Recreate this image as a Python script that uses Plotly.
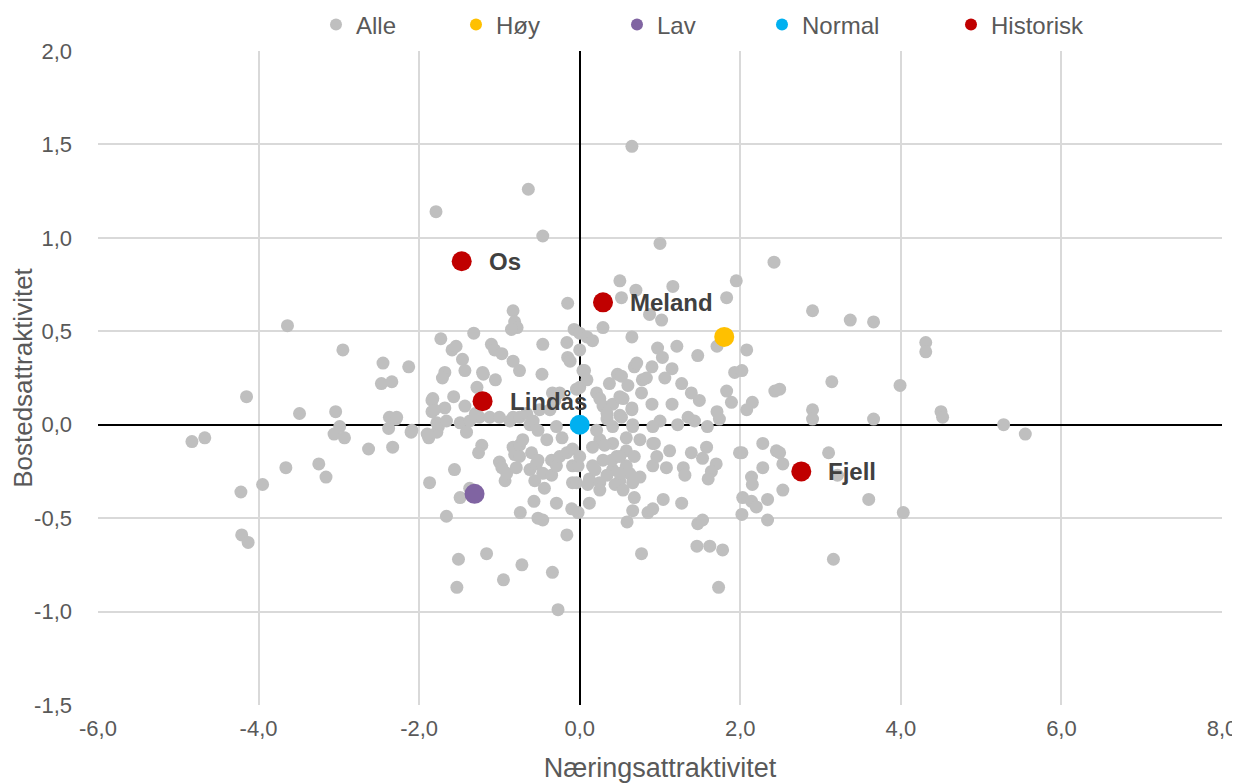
import plotly.graph_objects as go

# ---------------- data ----------------
alle_x = [
    -4.83, -4.67, -4.22, -4.21, -4.13, -3.95, -4.15, -3.64, -3.66, -3.49, -3.25, -3.16, -3.04, -2.99, -3.06, -2.93,
    -2.95, -2.63, -2.45, -2.47, -2.34, -2.38, -2.29, -2.33, -2.13, -2.10, -1.87, -1.79, -1.73, -1.68, -1.71, -1.84,
    -1.84, -1.76, -1.88, -1.78, -1.66, -1.59, -1.54, -1.56, -1.51, -1.53, -1.49, -1.46, -1.43, -1.43, -1.57, -1.68,
    -1.81, -1.78, -1.66, -1.49, -1.37, -1.41, -1.37, -1.32, -1.28, -1.25, -1.30, -1.22, -1.26, -1.21, -1.16, -1.10,
    -1.06, -1.05, -1.12, -1.00, -1.00, -0.97, -0.97, -0.93, -0.95, -0.91, -0.83, -0.83, -0.81, -0.78, -0.85, -0.87,
    -0.83, -0.81, -0.79, -0.83, -0.74, -0.72, -0.75, -0.75, -0.75, -0.75, -0.71, -0.64, -0.66, -0.62, -0.60, -0.62,
    -0.56, -0.57, -0.52, -0.54, -0.58, -0.46, -0.47, -0.50, -0.52, -0.52, -0.46, -0.46, -0.46, -0.44, -0.41, -0.37,
    -0.35, -0.35, -0.34, -0.34, -0.31, -0.29, -0.29, -0.29, -0.27, -0.25, -0.25, -0.22, -0.16, -0.15, -0.15, -0.16,
    -0.16, -0.12, -0.10, -0.09, -0.09, -0.09, -0.07, -0.04, -0.04, -0.02, -0.02, 0.00, 0.00, 0.00, 0.00, -1.20,
    -2.37, -2.09, -1.83, -1.90, -2.28,
    0.04, 0.09, 0.09, 0.16, 0.06, 0.21, 0.37, 0.47, 0.60, 0.68, 0.25, 0.29, 0.41, 0.54, 0.65, 0.50,
    0.34, 0.41, 0.66, 0.58, 0.41, 0.25, 0.16, 0.21, 0.16, 0.29, 0.46, 0.58, 0.41, 0.58, 0.12, 0.25,
    0.50, 0.66, 0.10, 0.12, 0.19, 0.31, 0.40, 0.25, 0.44, 0.34, 0.62, 0.66, 0.75, 0.91, 0.96, 0.91,
    0.54, 0.68, 0.50, 0.50,
    0.65, 1.00, 2.42, 1.95, 0.50, 0.70, 1.16, 1.83, 0.52, 0.29, 0.65, 0.87, 1.02, 1.21, 0.97, 1.47,
    1.71, 2.08, 1.93, 2.02, 2.43, 1.83, 1.89, 2.15, 2.08, 0.71, 0.52, 1.03, 0.90, 1.15, 1.06, 1.27,
    0.78, 0.83, 1.39, 1.49, 1.15, 0.90, 0.77, 0.65, 0.50, 0.34, 1.71, 1.74, 1.59, 1.43, 1.35, 1.22,
    1.00, 0.91, 0.66, 0.52, 0.75, 0.93, 1.12, 1.39, 1.58, 2.02, 2.28, 2.45, 1.53, 1.70, 1.64, 1.60,
    1.08, 1.29, 1.31, 1.04, 1.27, 0.85, 0.91, 0.66, 0.68, 0.59, 1.47, 1.53, 0.77, 1.46, 1.62, 1.78,
    1.73, 1.99, 2.14, 2.15, 2.28, 2.03, 2.14, 2.20, 2.34, 2.02, 2.34, 2.53, 2.53, 2.49, 2.90, 3.37,
    3.66, 4.31, 4.31, 3.14, 3.99, 2.49, 2.90, 2.90, 3.66, 4.50, 4.52, 5.28, 5.55, 3.10, 3.21, 3.60,
    4.03, 3.16,
]
alle_y = [
    -0.09, -0.07, -0.36, -0.59, -0.63, -0.32, 0.15, 0.53, -0.23, 0.06, -0.21, -0.28, 0.07, -0.01, -0.05, -0.07,
    0.40, -0.13, 0.33, 0.22, 0.23, -0.02, 0.03, -0.12, 0.31, -0.04, -0.31, 1.14, 0.46, 0.28, 0.25, 0.13,
    0.07, -0.01, -0.07, -0.04, -0.49, 0.40, 0.42, -0.24, -0.72, -0.87, -0.39, 0.35, 0.29, 0.10, 0.15, 0.09,
    0.08, 0.01, 0.02, 0.01, 0.02, -0.04, -0.34, 0.49, 0.20, 0.04, 0.06, -0.11, -0.15, 0.28, -0.69, 0.43,
    0.40, 0.24, 0.04, 0.04, -0.20, 0.38, -0.23, -0.30, -0.83, -0.26, 0.34, 0.61, 0.55, 0.52, 0.51, 0.02,
    0.04, -0.16, -0.23, -0.12, -0.47, -0.75, 0.29, 0.04, -0.11, -0.17, -0.08, 1.26, 0.06, 0.00, -0.15, -0.24,
    -0.30, -0.41, -0.50, -0.21, 0.02, 1.01, 0.27, 0.08, -0.03, -0.19, 0.43, -0.26, -0.51, -0.34, -0.08, 0.08,
    -0.27, -0.19, 0.17, -0.79, 0.13, -0.42, -0.22, -0.01, -0.99, 0.17, -0.17, -0.07, 0.44, 0.36, 0.65, -0.15,
    -0.59, 0.34, -0.45, -0.13, -0.22, -0.31, 0.51, 0.19, -0.31, -0.22, -0.47, 0.40, 0.49, 0.20, -0.17, 0.27,
    0.04, -0.03, 0.14, -0.05, 0.04,
    0.29, 0.24, 0.47, 0.45, 0.29, 0.17, 0.22, 0.27, 0.21, 0.31, 0.14, 0.10, 0.11, 0.14, 0.08, 0.05,
    0.03, -0.01, -0.01, -0.07, -0.10, -0.08, -0.12, -0.03, -0.22, -0.19, -0.17, -0.14, -0.24, -0.22, -0.29, -0.31,
    -0.30, -0.28, -0.32, -0.42, -0.24, -0.11, -0.19, -0.35, -0.32, -0.27, -0.26, -0.31, -0.28, -0.22, -0.17, -0.10,
    -0.35, -0.17, -0.17, -0.26,
    1.49, 0.97, 0.87, 0.77, 0.77, 0.72, 0.74, 0.68, 0.68, 0.52, 0.47, 0.59, 0.56, 0.42, 0.41, 0.37,
    0.42, 0.40, 0.28, 0.29, 0.18, 0.18, 0.12, 0.12, 0.08, 0.33, 0.26, 0.36, 0.31, 0.30, 0.25, 0.22,
    0.24, 0.25, 0.17, 0.13, 0.11, 0.11, 0.17, 0.09, 0.15, 0.06, 0.07, 0.03, -0.01, 0.02, 0.04, 0.00,
    0.02, -0.01, 0.00, 0.04, -0.08, -0.10, -0.14, -0.15, -0.12, -0.15, -0.10, -0.14, -0.18, -0.21, -0.25, -0.29,
    -0.23, -0.23, -0.27, -0.40, -0.42, -0.47, -0.45, -0.46, -0.39, -0.52, -0.53, -0.51, -0.69, -0.65, -0.65, -0.67,
    -0.87, -0.15, -0.28, -0.32, -0.23, -0.39, -0.41, -0.44, -0.40, -0.48, -0.51, -0.21, -0.35, -0.15, 0.61, 0.56,
    0.55, 0.44, 0.39, 0.23, 0.21, 0.19, 0.08, 0.03, 0.03, 0.07, 0.04, 0.00, -0.05, -0.15, -0.27, -0.40,
    -0.47, -0.72,
]

hoy_x = [1.80]
hoy_y = [0.47]
lav_x = [-1.31]
lav_y = [-0.37]
normal_x = [0.0]
normal_y = [0.0]
hist_names = ["Os", "Meland", "Lindås", "Fjell"]
hist_x = [-1.47, 0.29, -1.21, 2.76]
hist_y = [0.875, 0.655, 0.126, -0.25]

x_ticks = [-6, -4, -2, 0, 2, 4, 6, 8]
x_ticktext = ["-6,0", "-4,0", "-2,0", "0,0", "2,0", "4,0", "6,0", "8,0"]
y_ticks = [-1.5, -1.0, -0.5, 0.0, 0.5, 1.0, 1.5, 2.0]
y_ticktext = ["-1,5", "-1,0", "-0,5", "0,0", "0,5", "1,0", "1,5", "2,0"]

# ---------------- style ----------------
FONT = "Liberation Sans, Arial, sans-serif"
TXT = "#595959"
GRID = "#D9D9D9"
OFF = 8  # page body margin
W, H = 1240 - OFF, 783 - OFF
L, R, T, B = 98 - OFF, 18, 51 - OFF, 78
PW = W - L - R
PH = H - T - B

def legend_x(px):
    return (px - OFF - 20 - L) / PW

fig = go.Figure()

series = [
    ("Alle", alle_x, alle_y, "#BFBFBF", 13, 336),
    ("Høy", hoy_x, hoy_y, "#FFC000", 20, 476),
    ("Lav", lav_x, lav_y, "#8064A2", 20, 637),
    ("Normal", normal_x, normal_y, "#00B0F0", 20, 782),
    ("Historisk", hist_x, hist_y, "#C00000", 20, 971),
]

for i, (name, xs, ys, col, size, lpx) in enumerate(series):
    lg = "legend" if i == 0 else f"legend{i+1}"
    fig.add_trace(go.Scatter(
        x=xs, y=ys, mode="markers", name=name,
        marker=dict(color=col, size=size, line=dict(width=0)),
        legend=lg, hoverinfo="x+y",
    ))

legend_common = dict(
    orientation="h", yanchor="middle", y=1 + (T + OFF - 25) / PH, xanchor="left",
    font=dict(family=FONT, size=24, color=TXT), bgcolor="rgba(0,0,0,0)",
    itemsizing="constant", tracegroupgap=0,
)
layout_legends = {}
for i, s in enumerate(series):
    key = "legend" if i == 0 else f"legend{i+1}"
    layout_legends[key] = dict(legend_common, x=legend_x(s[5]))

for n, xv, yv in zip(hist_names, hist_x, hist_y):
    fig.add_annotation(
        x=xv, y=yv, text=f"<b>{n}</b>", showarrow=False, xanchor="left", yanchor="middle",
        xshift=25, font=dict(family=FONT, size=24, color="#404040"),
    )

fig.update_layout(
    width=W, height=H,
    margin=dict(l=L, r=R, t=T, b=B, autoexpand=False),
    paper_bgcolor="white", plot_bgcolor="white",
    font=dict(family=FONT, size=22, color=TXT),
    showlegend=True,
    **layout_legends,
)

fig.update_xaxes(
    range=[-6, 8], tickvals=x_ticks, ticktext=x_ticktext,
    showgrid=True, gridcolor=GRID, gridwidth=1.5,
    zeroline=True, zerolinecolor="black", zerolinewidth=1.5,
    showline=False, ticks="", tickfont=dict(family=FONT, size=22, color=TXT),
    ticklabelstandoff=8,
    title=dict(text="Næringsattraktivitet", font=dict(family=FONT, size=27, color=TXT), standoff=18),
)
fig.update_yaxes(
    range=[-1.5, 2.0], tickvals=y_ticks, ticktext=y_ticktext,
    showgrid=True, gridcolor=GRID, gridwidth=1.5,
    zeroline=True, zerolinecolor="black", zerolinewidth=1.5,
    showline=False, ticks="", tickfont=dict(family=FONT, size=22, color=TXT),
    ticklabelstandoff=25,
    title=dict(text="Bostedsattraktivitet", font=dict(family=FONT, size=26, color=TXT), standoff=0),
)

fig.write_html("out.html")
